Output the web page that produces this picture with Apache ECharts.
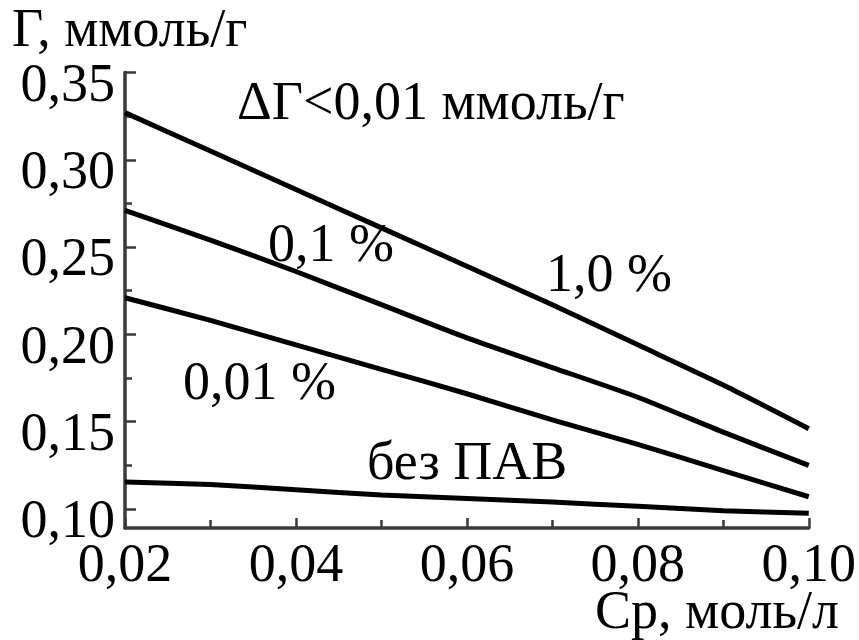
<!DOCTYPE html>
<html>
<head>
<meta charset="utf-8">
<script src="https://cdn.jsdelivr.net/npm/echarts@6/dist/echarts.min.js"></script>
<style>
  html, body { margin: 0; padding: 0; background: #fff; }
  #chart { width: 859px; height: 640px; }
</style>
</head>
<body>
<div id="chart"></div>
<script>
// Equilibrium concentration, mol/l
const concentration = [0.02, 0.03, 0.04, 0.05, 0.06, 0.07, 0.08, 0.09, 0.10];

// Adsorption Г, mmol/g, for each surfactant content
const surf1_0 = [0.327, 0.305, 0.283, 0.261, 0.239, 0.217, 0.194, 0.171, 0.146];
const surf0_1 = [0.271, 0.254, 0.236, 0.217, 0.198, 0.181, 0.164, 0.144, 0.125];
const surf0_01 = [0.221, 0.208, 0.194, 0.180, 0.166, 0.151, 0.137, 0.122, 0.107];
const noSurf = [0.1155, 0.114, 0.111, 0.108, 0.106, 0.104, 0.1015, 0.099, 0.0975];

// Axis ticks and labels
const yLabelValues = [0.10, 0.15, 0.20, 0.25, 0.30, 0.35];
const yMinorValues = [0.10, 0.125, 0.15, 0.175, 0.20, 0.225, 0.25, 0.275, 0.30, 0.325, 0.35];

const FONT = '"Liberation Serif", "Times New Roman", serif';
const FS = 54;
const comma = v => Number(v).toFixed(2).replace('.', ',');

const pair = ys => concentration.map((x, i) => [x, ys[i]]);

const lineSeries = (name, ys) => ({
  name, type: 'line', data: pair(ys),
  xAxisIndex: 0, yAxisIndex: 0,
  showSymbol: false, smooth: 0.2,
  lineStyle: { color: '#000', width: 5 },
  silent: true
});

const axisLine = { show: true, onZero: false, lineStyle: { color: '#3a3a3a', width: 3.5 } };

const chart = echarts.init(document.getElementById('chart'), null, { renderer: 'canvas' });
chart.setOption({
  animation: false,
  backgroundColor: '#fff',
  grid: { left: 125, right: 45, top: 72.5, bottom: 112, containLabel: false },
  xAxis: {
    type: 'value', min: 0.02, max: 0.10, interval: 0.02,
    axisLine,
    axisTick: { show: true, inside: true, length: 10, lineStyle: { color: '#3a3a3a', width: 2.5 } },
    minorTick: { show: true, splitNumber: 2, length: 8, lineStyle: { color: '#3a3a3a', width: 2.5 } },
    splitLine: { show: false },
    axisLabel: {
      margin: 12, formatter: comma,
      fontFamily: FONT, fontSize: FS, color: '#000',
      showMinLabel: true, showMaxLabel: true
    }
  },
  yAxis: [
    {
      type: 'value', min: 0.0891, max: 0.35,
      axisLine,
      axisTick: { show: true, inside: true, length: 7, customValues: yMinorValues,
                  lineStyle: { color: '#3a3a3a', width: 2.5 } },
      splitLine: { show: false },
      axisLabel: {
        customValues: yLabelValues, formatter: comma, margin: 10,
        verticalAlign: 'top', lineHeight: 28,
        fontFamily: FONT, fontSize: FS, color: '#000'
      }
    },
    {
      type: 'value', min: 0.0891, max: 0.35, position: 'left',
      axisLine: { show: false },
      axisTick: { show: true, inside: true, length: 11, customValues: yLabelValues,
                  lineStyle: { color: '#3a3a3a', width: 2.5 } },
      axisLabel: { show: false },
      splitLine: { show: false }
    }
  ],
  series: [
    lineSeries('1,0 %', surf1_0),
    lineSeries('0,1 %', surf0_1),
    lineSeries('0,01 %', surf0_01),
    lineSeries('без ПАВ', noSurf)
  ],
  graphic: [
    { type: 'text', left: 12, top: 5, style: { text: 'Г, ммоль/г', font: `${FS}px ${FONT}`, fill: '#000' } },
    { type: 'text', left: 595, top: 587, style: { text: 'Cp, моль/л', font: `${FS}px ${FONT}`, fill: '#000' } },
    { type: 'text', left: 237, top: 78, style: { text: 'ΔГ<0,01 ммоль/г', font: `${FS}px ${FONT}`, fill: '#000' } },
    { type: 'text', left: 268, top: 220, style: { text: '0,1 %', font: `${FS}px ${FONT}`, fill: '#000' } },
    { type: 'text', left: 546, top: 250, style: { text: '1,0 %', font: `${FS}px ${FONT}`, fill: '#000' } },
    { type: 'text', left: 183, top: 358, style: { text: '0,01 %', font: `${FS}px ${FONT}`, fill: '#000' } },
    { type: 'text', left: 367, top: 438, style: { text: 'без ПАВ', font: `${FS}px ${FONT}`, fill: '#000' } }
  ]
});
</script>
</body>
</html>
